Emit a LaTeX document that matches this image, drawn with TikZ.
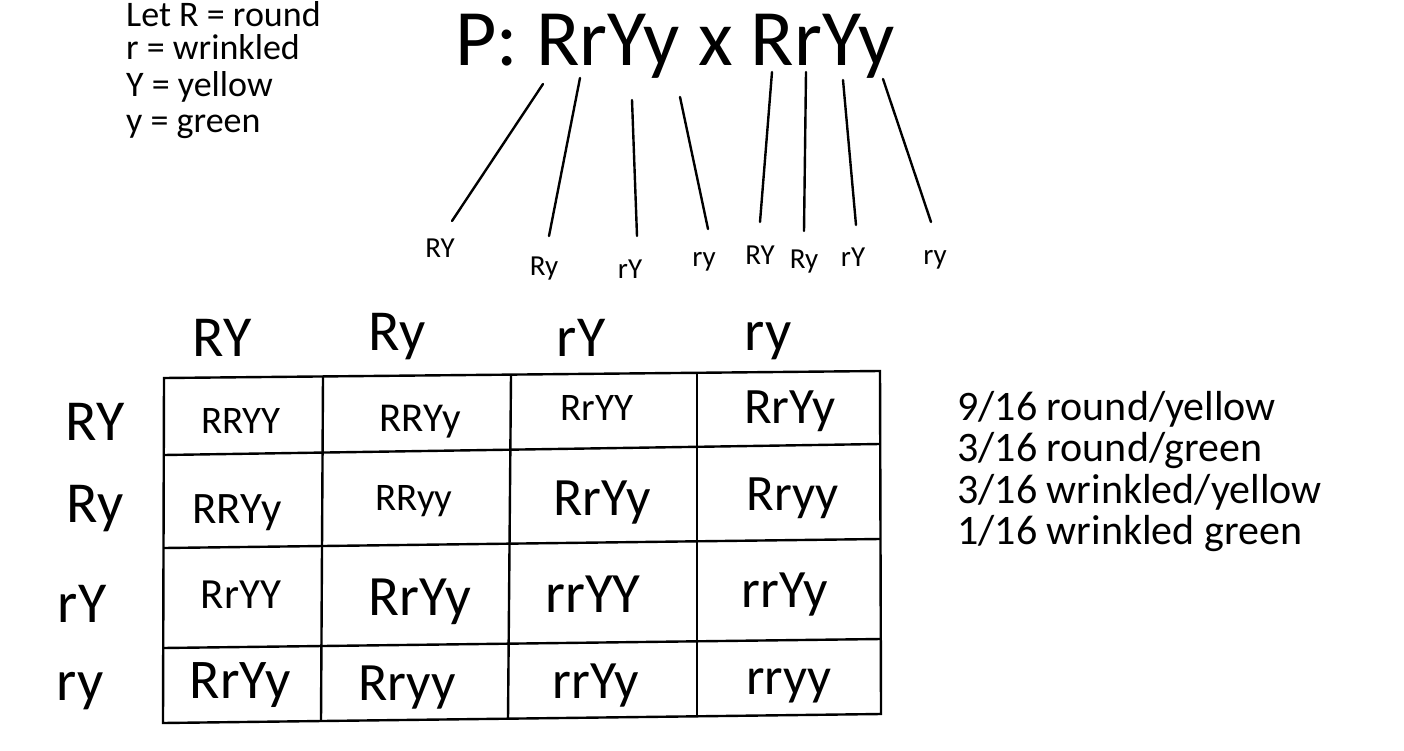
\documentclass[tikz,border=0pt]{standalone}
\usepackage{fontspec}
\setmainfont{Carlito}
\begin{document}
\begin{tikzpicture}[x=1pt,y=-1pt,
  fs/.style={font=\fontsize{#1}{#1}\selectfont},
  txt/.style={inner sep=0pt, anchor=base},
  txtl/.style={inner sep=0pt, anchor=base west},
  ln/.style={line width=2.4pt, line cap=round},
  grid/.style={line width=2.4pt, line join=miter}]
\useasboundingbox (0,0) rectangle (1404,751);
% legend
\node[txtl, fs=36] (leg1) at (126,27) {Let R = round};
\node[txtl, fs=36] (leg2) at (126,60) {r = wrinkled};
\node[txtl, fs=36] (leg3) at (126,97) {Y = yellow};
\node[txtl, fs=36] (leg4) at (126,133) {y = green};
% title
\node[txtl, fs=80] (title) at (455,66) {P: RrYy x RrYy};
% gametes
\node[txt, fs=29] (g1) at (440,258) {RY};
\node[txt, fs=29] (g2) at (544,275) {Ry};
\node[txt, fs=29] (g3) at (630,278) {rY};
\node[txt, fs=29] (g4) at (704,266) {ry};
\node[txt, fs=29] (g5) at (760,264) {RY};
\node[txt, fs=29] (g6) at (804,268) {Ry};
\node[txt, fs=29] (g7) at (853,266) {rY};
\node[txt, fs=29] (g8) at (935,264) {ry};
\coordinate (t1) at (543,84);  \coordinate (b1) at (452,221);
\coordinate (t2) at (580,78);  \coordinate (b2) at (549,236);
\coordinate (t3) at (632,100); \coordinate (b3) at (637,236);
\coordinate (t4) at (680,97);  \coordinate (b4) at (708,229);
\coordinate (t5) at (772,72);  \coordinate (b5) at (760,222);
\coordinate (t6) at (806,72);  \coordinate (b6) at (804,231);
\coordinate (t7) at (843,80);  \coordinate (b7) at (856,225);
\coordinate (t8) at (883,79);  \coordinate (b8) at (931,222);
\foreach \i in {1,...,8} \draw[ln] (t\i) -- (b\i);
% headers
\node[txt, fs=58] (h1) at (222,356) {RY};
\node[txt, fs=58] (h2) at (397,350) {Ry};
\node[txt, fs=58] (h3) at (581,356) {rY};
\node[txt, fs=58] (h4) at (768,350) {ry};
\node[txt, fs=58] (r1) at (95,440) {RY};
\node[txt, fs=58] (r2) at (95,522) {Ry};
\node[txt, fs=58] (r3) at (82,622) {rY};
\node[txt, fs=58] (r4) at (80,700) {ry};
% grid
\coordinate (tl) at (164,378); \coordinate (tr) at (880,371);
\coordinate (bl) at (163,723); \coordinate (br) at (881,714);
\coordinate (a1l) at (164,455); \coordinate (a1r) at (880,444);
\coordinate (a2l) at (164,548); \coordinate (a2r) at (880,539);
\coordinate (a3l) at (163,648); \coordinate (a3r) at (881,639);
\coordinate (v1t) at (323,377); \coordinate (v1b) at (321,721);
\coordinate (v2t) at (511,375); \coordinate (v2b) at (508,719);
\coordinate (v3t) at (697,373); \coordinate (v3b) at (697,717);
\draw[grid] (tl) -- (tr) -- (br) -- (bl) -- cycle;
\draw[grid] (a1l) -- (a1r);
\draw[grid] (a2l) -- (a2r);
\draw[grid] (a3l) -- (a3r);
\draw[grid] (v1t) -- (v1b);
\draw[grid] (v2t) -- (v2b);
\draw[grid] (v3t) -- (v3b);
% cells
\node[txt, fs=39] (c11) at (241,433) {RRYY};
\node[txt, fs=41] (c12) at (420,431) {RRYy};
\node[txt, fs=39] (c13) at (597,420) {RrYY};
\node[txt, fs=51] (c14) at (790,423) {RrYy};
\node[txt, fs=45] (c21) at (237,523) {RRYy};
\node[txt, fs=39] (c22) at (414,510) {RRyy};
\node[txt, fs=54] (c23) at (602,515) {RrYy};
\node[txt, fs=51] (c24) at (793,510) {Rryy};
\node[txt, fs=43] (c31) at (241,608) {RrYY};
\node[txt, fs=57] (c32) at (420,615) {RrYy};
\node[txt, fs=57] (c33) at (593,612) {rrYY};
\node[txt, fs=54] (c34) at (785,607) {rrYy};
\node[txt, fs=56] (c41) at (240,698) {RrYy};
\node[txt, fs=54] (c42) at (407,700) {Rryy};
\node[txt, fs=54] (c43) at (596,698) {rrYy};
\node[txt, fs=53] (c44) at (789,694) {rryy};
% ratios
\node[txtl, fs=42] (p1) at (957,420) {9/16 round/yellow};
\node[txtl, fs=42] (p2) at (957,461) {3/16 round/green};
\node[txtl, fs=42] (p3) at (957,503) {3/16 wrinkled/yellow};
\node[txtl, fs=42] (p4) at (957,544) {1/16 wrinkled green};
\end{tikzpicture}
\end{document}
